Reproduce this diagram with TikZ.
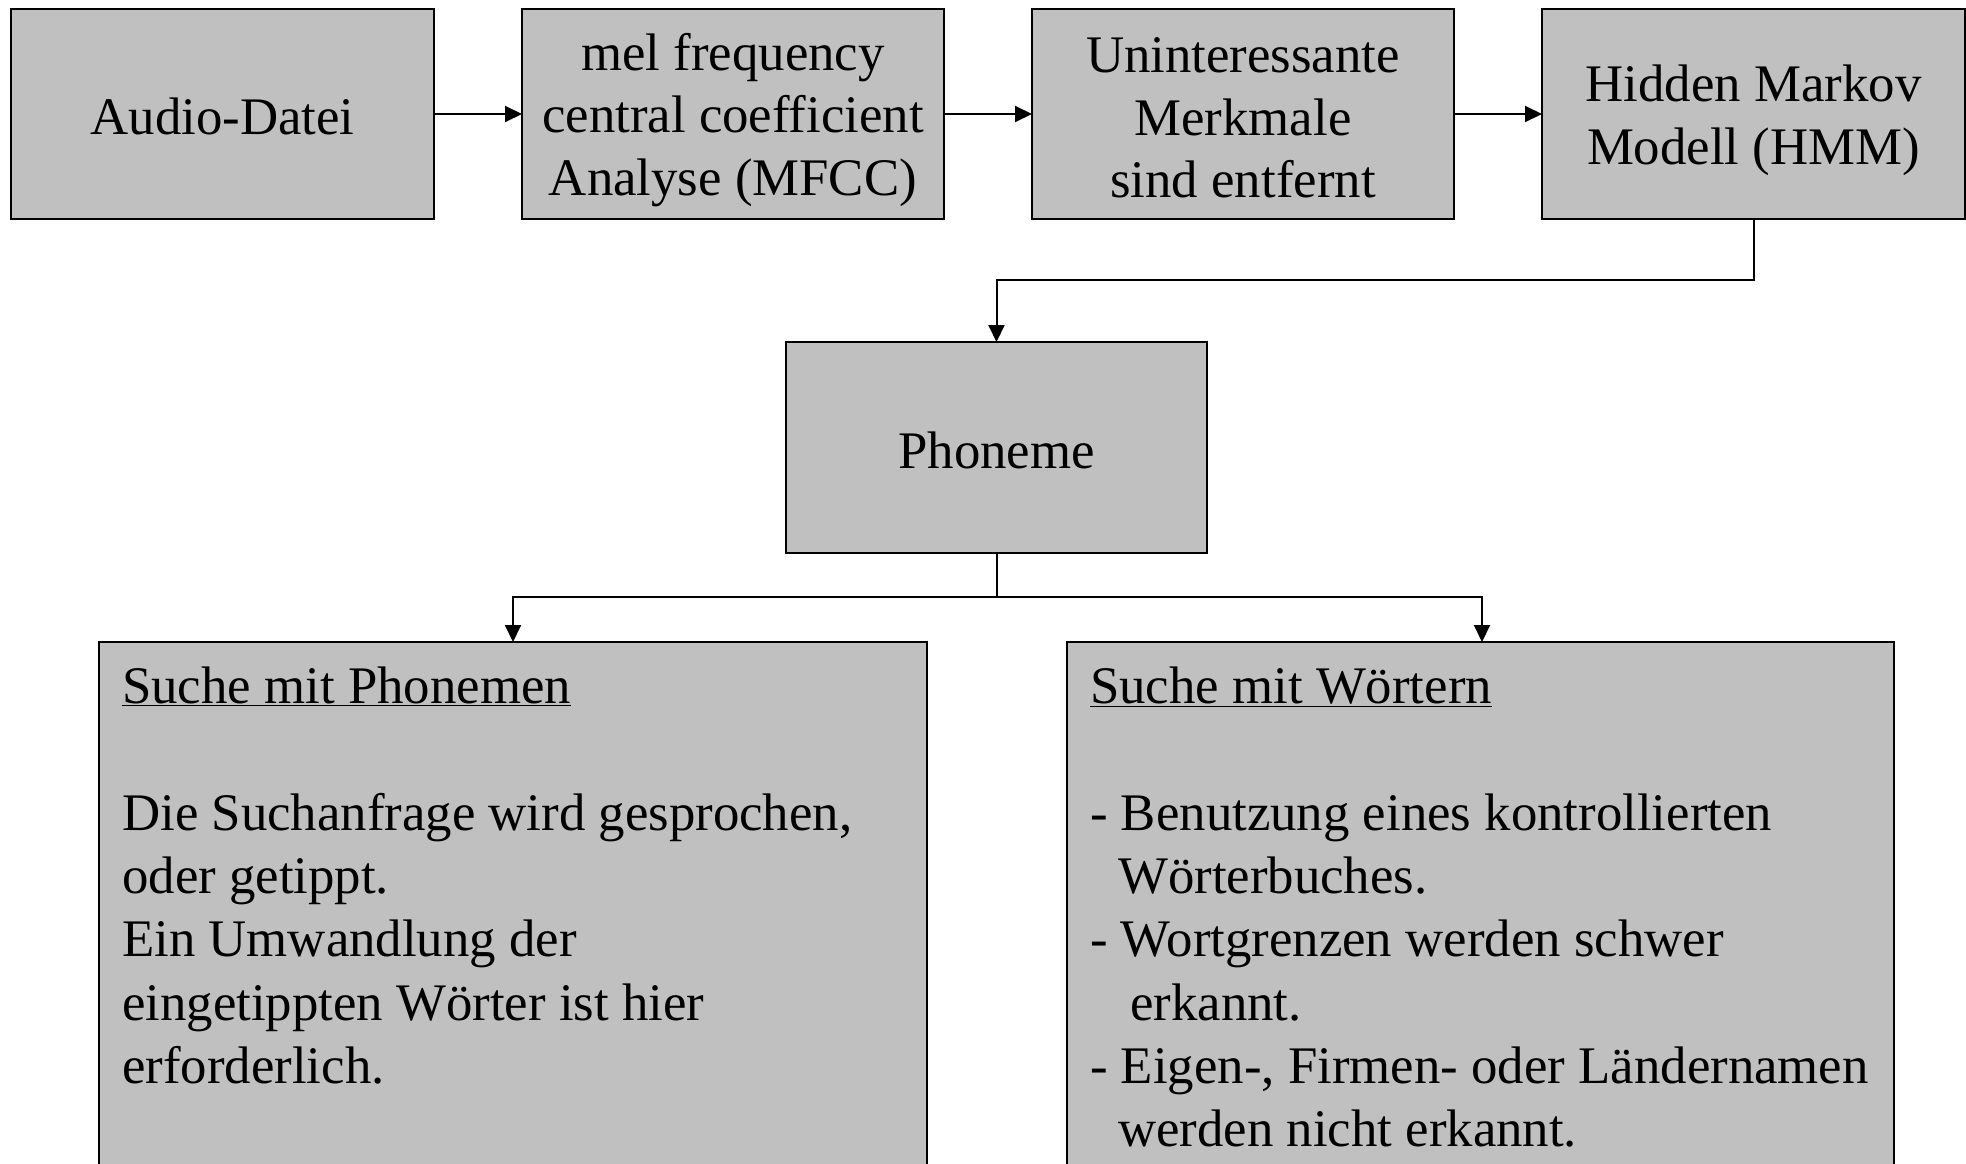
\documentclass[tikz,border=0pt]{standalone}
\usepackage{fontspec}
\setmainfont{Liberation Serif}
\usetikzlibrary{arrows.meta}
\definecolor{boxgray}{RGB}{192,192,192}
\tikzset{
  box/.style={draw=black, fill=boxgray, line width=1.5pt, inner sep=0pt},
  boxtext/.style={inner sep=0pt, align=center, font=\fontsize{52.8}{62.7}\selectfont},
  bodytext/.style={inner sep=0pt, align=left, anchor=north west, font=\fontsize{52.8}{63.3}\selectfont},
  conn/.style={line width=2pt, -{Triangle[length=17pt,width=16pt]}},
}
\begin{document}
\begin{tikzpicture}[x=1pt,y=-1pt]
\useasboundingbox (0,0) rectangle (1966,1164);
% top row
\draw[box] (11,9) rectangle (434,219);
\node[boxtext] (b1) at (222.5,116) {Audio-Datei};
\draw[box] (522,9) rectangle (944,219);
\node[boxtext] (b2) at (733,120) {mel frequency\\central coefficient\\Analyse (MFCC)};
\draw[box] (1032,9) rectangle (1454,219);
\node[boxtext] (b3) at (1243,118) {Uninteressante\\Merkmale\\sind entfernt};
\draw[box] (1542,9) rectangle (1965,219);
\node[boxtext] (b4) at (1753.5,120) {Hidden Markov\\Modell (HMM)};
% anchors for box edges
\coordinate (b1r) at (434,114);
\coordinate (b2l) at (522,114);
\coordinate (b2r) at (944,114);
\coordinate (b3l) at (1032,114);
\coordinate (b3r) at (1454,114);
\coordinate (b4l) at (1542,114);
\coordinate (b4s) at (1753.5,219);
% phoneme
\draw[box] (786,342) rectangle (1207,553);
\node[boxtext] (ph) at (996.5,450) {Phoneme};
\coordinate (phn) at (996.5,342);
\coordinate (phs) at (996.5,553);
% bottom boxes
\draw[box] (99,642) rectangle (927,1180);
\draw[box] (1067,642) rectangle (1894,1180);
\coordinate (bln) at (513,642);
\coordinate (brn) at (1482,642);
\node[bodytext] (blt) at (122,659) {\strut\underline{Suche mit Phonemen}\\[63.3pt]
Die Suchanfrage wird gesprochen,\\
oder getippt.\\
Ein Umwandlung der\\
eingetippten Wörter ist hier\\
erforderlich.};
\node[bodytext] (brt) at (1090,659) {\strut\underline{Suche mit Wörtern}\\[63.3pt]
- Benutzung eines kontrollierten\\
\hspace*{28pt}Wörterbuches.\\
- Wortgrenzen werden schwer\\
\hspace*{40pt}erkannt.\\
- Eigen-, Firmen- oder Ländernamen\\
\hspace*{28pt}werden nicht erkannt.};
% connectors
\draw[conn] (b1r) -- (b2l);
\draw[conn] (b2r) -- (b3l);
\draw[conn] (b3r) -- (b4l);
\draw[conn] (b4s) |- (996.5,280) -- (phn);
\draw[conn] (phs) -- (996.5,597) -| (bln);
\draw[conn] (phs) -- (996.5,597) -| (brn);
\end{tikzpicture}
\end{document}
